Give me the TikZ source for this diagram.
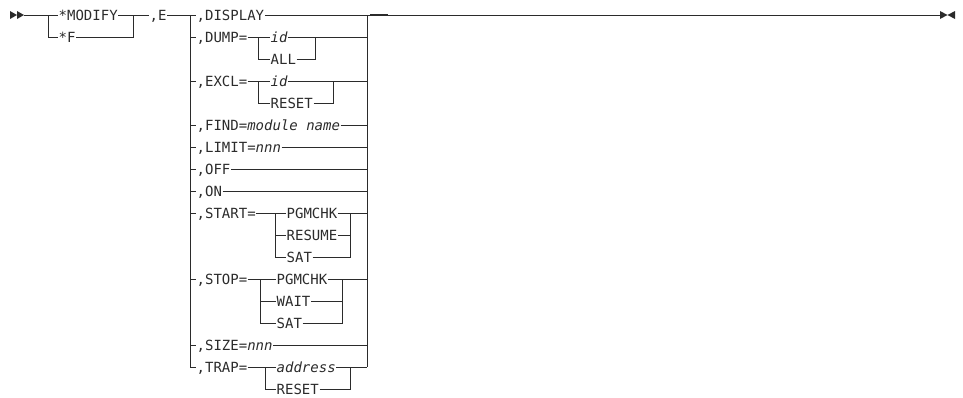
\documentclass[tikz,border=0pt]{standalone}
\usepackage{fontspec}
\setmonofont{DejaVu Sans Mono}
\usepackage{tikz}
\usetikzlibrary{positioning,calc}
\definecolor{ink}{HTML}{2B2B2B}

\begin{document}
\begin{tikzpicture}[
    x=1pt,y=-1pt,
    font=\ttfamily\fontsize{14}{16}\selectfont,
    kw/.style={anchor=west,inner sep=0.5pt,text height=10.2pt,text depth=0pt,text=ink},
    var/.style={kw,font=\ttfamily\itshape\fontsize{14}{16}\selectfont},
    rail/.style={draw=ink,line width=0.8pt},
    tip/.style={fill=ink,draw=none}
  ]
  \useasboundingbox (0,0) rectangle (963,397);

  % start and end marks
  \fill[tip] (10,11) -- (17,15) -- (10,19) -- cycle;
  \fill[tip] (17,11) -- (24,15) -- (17,19) -- cycle;
  \coordinate (begin) at (24,15);
  \fill[tip] (940,11) -- (947.5,15) -- (940,19) -- cycle;
  \fill[tip] (955,11) -- (947.5,15) -- (955,19) -- cycle;
  \coordinate (finish) at (940,15);

  % command name
  \coordinate (cmdl) at (48,15);
  \coordinate (cmdr) at (133,15);
  \node[kw] (modify) at (58,15) {*MODIFY};
  \node[kw] (short)  at (58,37) {*F};
  \node[kw] (ee)     at (149,15) {,E};
  \draw[rail] (begin) -- (modify.west);
  \draw[rail] (modify.east) -- (ee.west);
  \draw[rail] (cmdl) |- (short.west);
  \draw[rail] (short.east) -| (cmdr);

  % operand rails
  \coordinate (lrail) at (190,15);
  \coordinate (rrail) at (367,15);
  \coordinate (lbot)  at (190,367);
  \coordinate (rbot)  at (367,367);
  \draw[rail] (ee.east) -- (lrail) -- (lbot);
  \draw[rail] (rrail) -- (rbot);

  % single operands
  \node[kw] (display) at (196,15)  {,DISPLAY};
  \node[kw] (find)    at (196,125) {,FIND=\textit{module name}};
  \node[kw] (limit)   at (196,147) {,LIMIT=\textit{nnn}};
  \node[kw] (off)     at (196,169) {,OFF};
  \node[kw] (on)      at (196,191) {,ON};
  \node[kw] (size)    at (196,345) {,SIZE=\textit{nnn}};
  \foreach \op in {display,find,limit,off,on,size}{
    \draw[rail] (\op.west -| lrail) -- (\op.west);
    \draw[rail] (\op.east) -- (\op.east -| rrail);
  }
  \draw[rail] (rrail) -- (finish);
  \draw[draw=ink,line width=1.6pt] (rrail) ++(3,0) -- ++(18,0);

  % DUMP=
  \node[kw]  (dump)    at (196,37) {,DUMP=};
  \node[var] (dumpid)  at (270,37) {id};
  \node[kw]  (dumpall) at (270,59) {ALL};
  \coordinate (dumpl) at (258,37);
  \coordinate (dumpr) at (315,37);
  \draw[rail] (dump.west -| lrail) -- (dump.west);
  \draw[rail] (dump.east) -- (dumpid.west);
  \draw[rail] (dumpid.east) -- (dumpid.east -| rrail);
  \draw[rail] (dumpl) |- (dumpall.west);
  \draw[rail] (dumpall.east) -| (dumpr);

  % EXCL=
  \node[kw]  (excl)      at (196,81)  {,EXCL=};
  \node[var] (exclid)    at (270,81)  {id};
  \node[kw]  (exclreset) at (270,103) {RESET};
  \coordinate (excll) at (258,81);
  \coordinate (exclr) at (333,81);
  \draw[rail] (excl.west -| lrail) -- (excl.west);
  \draw[rail] (excl.east) -- (exclid.west);
  \draw[rail] (exclid.east) -- (exclid.east -| rrail);
  \draw[rail] (excll) |- (exclreset.west);
  \draw[rail] (exclreset.east) -| (exclr);

  % START=
  \node[kw] (start)     at (196,213) {,START=};
  \node[kw] (stapgm)    at (286,213) {PGMCHK};
  \node[kw] (staresume) at (286,235) {RESUME};
  \node[kw] (stasat)    at (286,257) {SAT};
  \coordinate (stal) at (275,213);
  \coordinate (star) at (350,213);
  \draw[rail] (start.west -| lrail) -- (start.west);
  \draw[rail] (start.east) -- (stapgm.west);
  \draw[rail] (stapgm.east) -- (stapgm.east -| rrail);
  \draw[rail] (stal) |- (stasat.west);
  \draw[rail] (staresume.west -| stal) -- (staresume.west);
  \draw[rail] (staresume.east) -- (staresume.east -| star);
  \draw[rail] (stasat.east) -| (star);

  % STOP=
  \node[kw] (stop)     at (196,279) {,STOP=};
  \node[kw] (stopgm)   at (276,279) {PGMCHK};
  \node[kw] (stowait)  at (276,301) {WAIT};
  \node[kw] (stosat)   at (276,323) {SAT};
  \coordinate (stol) at (260,279);
  \coordinate (stor) at (342,279);
  \draw[rail] (stop.west -| lrail) -- (stop.west);
  \draw[rail] (stop.east) -- (stopgm.west);
  \draw[rail] (stopgm.east) -- (stopgm.east -| rrail);
  \draw[rail] (stol) |- (stosat.west);
  \draw[rail] (stowait.west -| stol) -- (stowait.west);
  \draw[rail] (stowait.east) -- (stowait.east -| stor);
  \draw[rail] (stosat.east) -| (stor);

  % TRAP=
  \node[kw]  (trap)      at (196,367) {,TRAP=};
  \node[var] (trapaddr)  at (276,367) {address};
  \node[kw]  (trapreset) at (276,389) {RESET};
  \coordinate (trapl) at (265,367);
  \coordinate (trapr) at (350,367);
  \draw[rail] (lbot) -- (trap.west);
  \draw[rail] (trap.east) -- (trapaddr.west);
  \draw[rail] (trapaddr.east) -- (rbot);
  \draw[rail] (trapl) |- (trapreset.west);
  \draw[rail] (trapreset.east) -| (trapr);

\end{tikzpicture}
\end{document}
